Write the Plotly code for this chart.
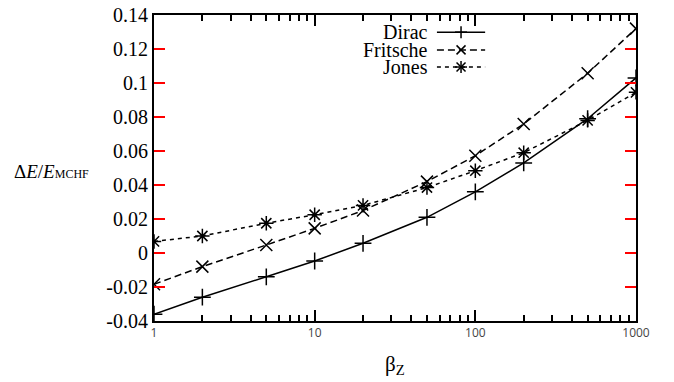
import plotly.graph_objects as go

beta = [1, 2, 5, 10, 20, 50, 100, 200, 500, 1000]
dirac = [-0.036, -0.026, -0.014, -0.0047, 0.0057, 0.021, 0.036, 0.053, 0.079, 0.103]
fritsche = [-0.0184, -0.008, 0.0047, 0.0145, 0.025, 0.042, 0.0572, 0.0759, 0.1057, 0.132]
jones = [0.0068, 0.0100, 0.0175, 0.0225, 0.0280, 0.0385, 0.0484, 0.0590, 0.0780, 0.0945]

names = ["Dirac", "Fritsche", "Jones"]
series = [dirac, fritsche, jones]
symbols = ["cross-thin", "x-thin", "asterisk"]
dashes = ["solid", "7px,4px", "4px,4px"]

ytick_vals = [-0.04, -0.02, 0, 0.02, 0.04, 0.06, 0.08, 0.1, 0.12, 0.14]
ytick_text = ["-0.04", "-0.02", "0", "0.02", "0.04", "0.06", "0.08", "0.1", "0.12", "0.14"]
xtick_vals = [1, 10, 100, 1000]
xtick_text = ["1", "10", "100", "1000"]
xminor_vals = [2, 3, 4, 5, 6, 7, 8, 9, 20, 30, 40, 50, 60, 70, 80, 90,
               200, 300, 400, 500, 600, 700, 800, 900]

FONT = "Liberation Serif, Times New Roman, serif"

fig = go.Figure()
for n, s, sym, d in zip(names, series, symbols, dashes):
    fig.add_trace(go.Scatter(
        x=beta, y=s, name=n, mode="lines+markers",
        line=dict(color="black", width=1.5, dash=d),
        marker=dict(symbol=sym, size=12, color="black",
                    line=dict(color="black", width=1.5)),
        showlegend=False))

fig.update_layout(
    template="none",
    width=674, height=382,
    margin=dict(l=154, r=38, t=15, b=61),
    xaxis=dict(type="log", range=[0, 3],
               tickvals=xtick_vals, ticktext=xtick_text,
               ticks="inside", ticklen=11, tickwidth=2, tickcolor="black",
               showline=True, linewidth=2, linecolor="black", mirror="allticks",
               showgrid=False, zeroline=False,
               minor=dict(ticks="inside", ticklen=6, tickwidth=2, tickcolor="black",
                          tickvals=xminor_vals, showgrid=False)),
    yaxis=dict(range=[-0.04, 0.14], tickmode="array",
               tickvals=ytick_vals, ticktext=ytick_text,
               ticks="inside", ticklen=11, tickwidth=2, tickcolor="red",
               showline=True, linewidth=2, linecolor="black", mirror="allticks",
               showgrid=False, zeroline=False,
               tickfont=dict(family=FONT, size=20, color="#000")),
)

leg_y = [0.944, 0.886, 0.830]
lx0, lx1, mx = 0.587, 0.687, 0.637
hx, hy = 6 / 482, 6 / 306
for n, sym, d, yy in zip(names, symbols, dashes, leg_y):
    fig.add_shape(type="line", xref="paper", yref="paper",
                  x0=lx0, x1=lx1, y0=yy, y1=yy,
                  line=dict(color="black", width=1.5, dash=d))
    fig.add_annotation(x=0.572, y=yy, xref="paper", yref="paper", text=n,
                       showarrow=False, xanchor="right", yanchor="middle",
                       font=dict(family=FONT, size=20, color="#000"))
    glyph = []
    if sym in ("cross-thin", "asterisk"):
        glyph += [(mx - hx, yy, mx + hx, yy), (mx, yy - hy, mx, yy + hy)]
    if sym in ("x-thin", "asterisk"):
        k = 0.75
        glyph += [(mx - k * hx, yy - k * hy, mx + k * hx, yy + k * hy),
                  (mx - k * hx, yy + k * hy, mx + k * hx, yy - k * hy)]
    for (a, b, c, e) in glyph:
        fig.add_shape(type="line", xref="paper", yref="paper",
                      x0=a, y0=b, x1=c, y1=e,
                      line=dict(color="black", width=1.5))

fig.add_annotation(x=-0.212, y=0.487, xref="paper", yref="paper",
                   text="Δ<i>E</i>/<i>E</i><span style='font-size:12px'>MCHF</span>",
                   showarrow=False, xanchor="center", yanchor="middle",
                   font=dict(family=FONT, size=19, color="#000"))
fig.add_annotation(x=0.5, y=-0.144, xref="paper", yref="paper",
                   text="β<sub>Z</sub>", showarrow=False,
                   xanchor="center", yanchor="middle",
                   font=dict(family=FONT, size=21, color="#000"))

fig.write_html("out.html", config={"displayModeBar": False},
               post_script="document.body.style.margin='0';")
